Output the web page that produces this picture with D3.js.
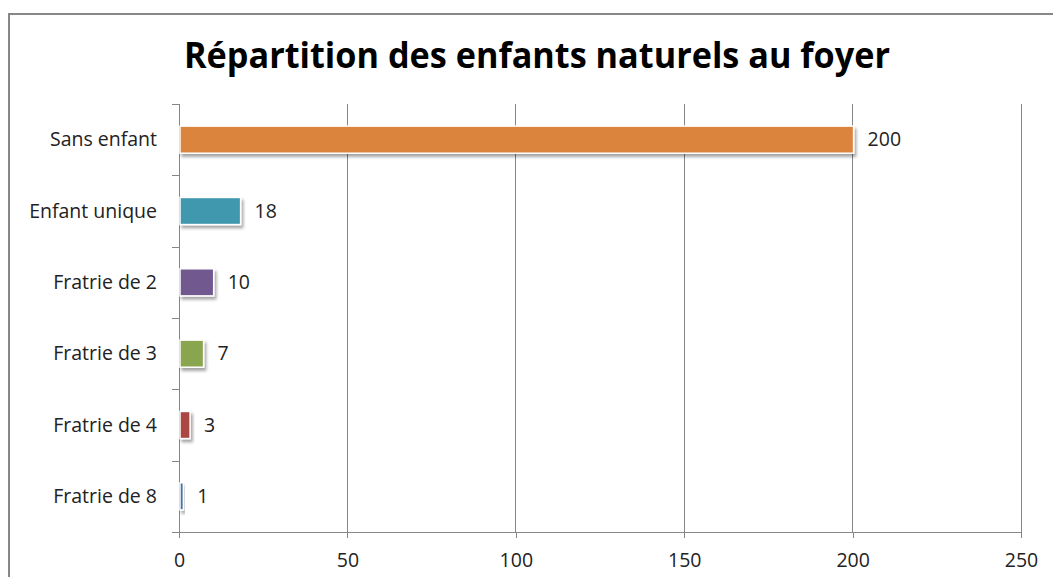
<!DOCTYPE html>
<html>
<head>
<meta charset="utf-8">
<script src="https://cdn.jsdelivr.net/npm/d3@7"></script>
<style>
  html, body { margin: 0; padding: 0; background: #fff; }
  svg { display: block; }
  text { font-family: "Open Sans", Lato, sans-serif; }
</style>
</head>
<body>
<svg id="chart" width="1053" height="577"></svg>
<script>
// Children living in the household, by sibling group size
const categories = ["Sans enfant", "Enfant unique", "Fratrie de 2", "Fratrie de 3", "Fratrie de 4", "Fratrie de 8"];
const counts = [200, 18, 10, 7, 3, 1];
const barColors = ["#DB843D", "#4198AF", "#71588F", "#89A54E", "#AA4643", "#4572A7"];
const xTicks = [0, 50, 100, 150, 200, 250];
const title = "Répartition des enfants naturels au foyer";

const W = 1053, H = 577;
const svg = d3.select("#chart");
const labelFont = "'Open Sans', Lato, sans-serif";
const labelSize = 19.5;

// drop shadow used under each bar
const defs = svg.append("defs");
const f = defs.append("filter").attr("id", "barShadow")
  .attr("x", "-20%").attr("y", "-30%").attr("width", "160%").attr("height", "180%");
f.append("feDropShadow").attr("dx", 2).attr("dy", 3).attr("stdDeviation", 1.5)
  .attr("flood-color", "#000").attr("flood-opacity", 0.35);

// outer frame (top and left edges visible)
svg.append("path")
  .attr("d", `M9,${H} L9,14 L${W},14`)
  .attr("fill", "none").attr("stroke", "#878787").attr("stroke-width", 2);

// title
svg.append("text")
  .attr("x", 537).attr("y", 68)
  .attr("text-anchor", "middle")
  .attr("font-family", "Lato, 'Open Sans', sans-serif")
  .attr("font-size", 35).attr("font-weight", "bold").attr("fill", "#000")
  .attr("textLength", 706).attr("lengthAdjust", "spacingAndGlyphs")
  .text(title);

const x = d3.scaleLinear().domain([0, 250]).range([179, 1021]);
const y = d3.scaleBand().domain(categories).range([104, 532]).paddingInner(0.62).paddingOuter(0.31);

const axisColor = "#868686";

// vertical gridlines
svg.append("g").selectAll("line").data(xTicks.slice(1)).join("line")
  .attr("x1", d => x(d)).attr("x2", d => x(d))
  .attr("y1", 104).attr("y2", 532)
  .attr("stroke", axisColor).attr("stroke-width", 1)
  .attr("shape-rendering", "crispEdges");

// x axis
const xAxis = svg.append("g").attr("transform", "translate(0,532)")
  .call(d3.axisBottom(x).tickValues(xTicks).tickSize(6).tickPadding(15).tickSizeOuter(0));
xAxis.select(".domain").attr("stroke", axisColor).attr("shape-rendering", "crispEdges");
xAxis.selectAll(".tick line").attr("stroke", axisColor).attr("shape-rendering", "crispEdges");
xAxis.selectAll(".tick text").attr("font-size", labelSize).attr("fill", "#222")
  .attr("font-family", labelFont);

// y axis: line plus ticks at category boundaries
const bounds = d3.range(categories.length + 1).map(i => 104 + i * (428 / categories.length));
const yAxis = svg.append("g");
yAxis.append("line").attr("x1", 179).attr("x2", 179).attr("y1", 104).attr("y2", 532)
  .attr("stroke", axisColor).attr("shape-rendering", "crispEdges");
yAxis.selectAll("line.tk").data(bounds).join("line").attr("class", "tk")
  .attr("x1", 172).attr("x2", 179)
  .attr("y1", d => Math.round(d)).attr("y2", d => Math.round(d))
  .attr("stroke", axisColor).attr("shape-rendering", "crispEdges");

// category labels
svg.append("g").selectAll("text").data(categories).join("text")
  .attr("x", 157).attr("y", d => y(d) + y.bandwidth() / 2)
  .attr("dy", "0.35em").attr("text-anchor", "end")
  .attr("font-size", labelSize).attr("fill", "#222")
  .text(d => d);

// bars
const rows = categories.map((c, i) => ({ c, v: counts[i], color: barColors[i] }));
svg.append("g").selectAll("rect").data(rows).join("rect")
  .attr("x", x(0) + 1).attr("y", d => y(d.c))
  .attr("width", d => Math.max(x(d.v) - x(0), 1.5)).attr("height", y.bandwidth())
  .attr("fill", d => d.color)
  .attr("stroke", "#fff").attr("stroke-width", 1.5)
  .attr("filter", "url(#barShadow)");

// value labels
svg.append("g").selectAll("text").data(rows).join("text")
  .attr("x", d => x(d.v) + 15).attr("y", d => y(d.c) + y.bandwidth() / 2)
  .attr("dy", "0.35em")
  .attr("font-size", labelSize).attr("fill", "#222")
  .text(d => d.v);
</script>
</body>
</html>
